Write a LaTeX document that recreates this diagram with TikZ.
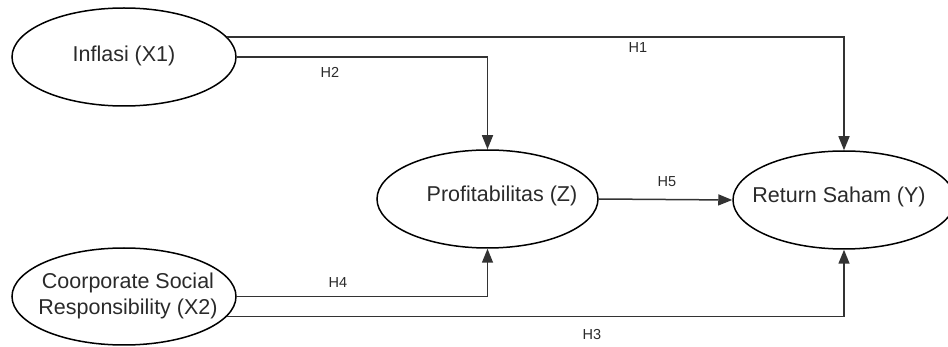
\documentclass[tikz,border=0pt]{standalone}
\usepackage{fontspec}
\setmainfont{Liberation Sans}
\usetikzlibrary{shapes.geometric,arrows.meta}
\definecolor{linegray}{HTML}{333333}
\definecolor{textgray}{HTML}{2A2A2A}
\tikzset{
  var/.style={ellipse,draw=black,line width=1.5pt,inner sep=0pt,minimum width=224pt,minimum height=98pt},
  vartext/.style={font=\fontsize{21.5}{26}\selectfont,text=textgray,align=center,inner sep=0pt},
  conn/.style={draw=linegray,line width=1.5pt,-{Triangle[length=14pt,width=11pt]}},
  hlab/.style={font=\fontsize{14.5}{16}\selectfont,text=textgray,inner sep=0pt}
}
\begin{document}
\begin{tikzpicture}[x=1pt,y=-1pt]
\useasboundingbox (0,0) rectangle (948,347);
\node[var] (inf) at (124,57) {};
\node[var,minimum width=221pt] (prof) at (487.5,199) {};
\node[var,minimum width=222pt] (ret) at (844,200) {};
\node[var,minimum height=97pt] (csr) at (124,296.5) {};
\node[vartext] (tinf) at (124,56) {Inflasi (X1)};
\node[vartext] (tprof) at (502,196) {Profitabilitas (Z)};
\node[vartext] (tret) at (839,197) {Return Saham (Y)};
\node[vartext] (tcsr) at (128,296) {Coorporate Social\\Responsibility (X2)};
\draw[conn] (inf.11) -| (ret.north);
\draw[conn] (inf.east) -| (prof.north);
\draw[conn] (csr.east) -| (prof.south);
\draw[conn] (csr.-11) -| (ret.south);
\draw[conn] (prof.east) -- (ret.west);
\node[hlab] (h1) at (638,48) {H1};
\node[hlab] (h2) at (330,72) {H2};
\node[hlab] (h3) at (592,335) {H3};
\node[hlab] (h4) at (338,283) {H4};
\node[hlab] (h5) at (667,182) {H5};
\end{tikzpicture}
\end{document}
